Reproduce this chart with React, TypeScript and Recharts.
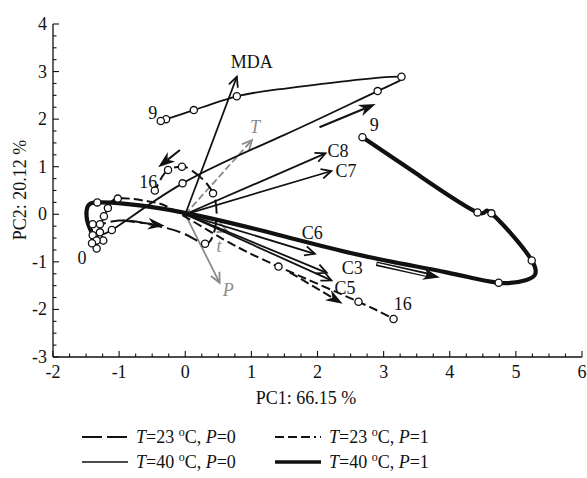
import React from "react";
import { ComposedChart, Line, XAxis, YAxis, ReferenceLine, ReferenceDot } from "recharts";

// axis ticks
const xMajor = [-2, -1, 0, 1, 2, 3, 4, 5, 6];
const yMajor = [-3, -2, -1, 0, 1, 2, 3, 4];
const xTicks = Array.from({ length: 33 }, (_, i) => -2 + i * 0.25);
const yTicks = Array.from({ length: 29 }, (_, i) => -3 + i * 0.25);

// score trajectories (m = measured sample, drawn with a circle)
const t23p0 = [
  { x: -1.41, y: -0.61, m: 1 },
  { x: -1.4, y: -0.21, m: 1 },
  { x: -1.29, y: -0.21, m: 1 },
  { x: -1.0, y: -0.13 },
  { x: -0.5, y: -0.22 },
  { x: 0.0, y: -0.42 },
  { x: 0.3, y: -0.62, m: 1 },
  { x: 0.45, y: -0.3 },
  { x: 0.42, y: 0.44, m: 1 },
  { x: 0.1, y: 0.92 },
  { x: -0.05, y: 1.0, m: 1 },
  { x: -0.26, y: 0.93, m: 1 },
  { x: -0.4, y: 0.66 },
  { x: -0.46, y: 0.5, m: 1 },
];
const t23p1 = [
  { x: -1.34, y: -0.55, m: 1 },
  { x: -1.23, y: -0.04, m: 1 },
  { x: -1.17, y: 0.13, m: 1 },
  { x: -1.02, y: 0.33, m: 1 },
  { x: -0.55, y: 0.27 },
  { x: -0.19, y: 0.1 },
  { x: 0.57, y: -0.52 },
  { x: 1.41, y: -1.1, m: 1 },
  { x: 2.62, y: -1.84, m: 1 },
  { x: 3.15, y: -2.2, m: 1 },
];
const t40p0 = [
  { x: -1.24, y: -0.55, m: 1 },
  { x: -1.29, y: -0.38, m: 1 },
  { x: -1.11, y: -0.33, m: 1 },
  { x: -0.04, y: 0.65, m: 1 },
  { x: 1.5, y: 1.67 },
  { x: 2.91, y: 2.59, m: 1 },
  { x: 3.27, y: 2.89, m: 1 },
  { x: 2.44, y: 2.8 },
  { x: 1.43, y: 2.63 },
  { x: 0.78, y: 2.48, m: 1 },
  { x: 0.13, y: 2.19, m: 1 },
  { x: -0.29, y: 2.0, m: 1 },
  { x: -0.37, y: 1.96, m: 1 },
];
const t40p1 = [
  { x: -1.34, y: -0.72, m: 1 },
  { x: -1.4, y: -0.44, m: 1 },
  { x: -1.48, y: -0.15 },
  { x: -1.48, y: 0.15 },
  { x: -1.33, y: 0.25, m: 1 },
  { x: -0.9, y: 0.22 },
  { x: -0.4, y: 0.13 },
  { x: 0.3, y: -0.06 },
  { x: 1.43, y: -0.44 },
  { x: 2.68, y: -0.87 },
  { x: 3.95, y: -1.22 },
  { x: 4.74, y: -1.44, m: 1 },
  { x: 5.16, y: -1.38 },
  { x: 5.24, y: -0.97, m: 1 },
  { x: 4.63, y: 0.02, m: 1 },
  { x: 4.42, y: 0.04, m: 1 },
  { x: 3.5, y: 0.85 },
  { x: 2.68, y: 1.62, m: 1 },
];

// variable loadings
const loadings = [
  { name: "MDA", x: 0.78, y: 2.89 },
  { name: "C8", x: 2.12, y: 1.28 },
  { name: "C7", x: 2.21, y: 0.91 },
  { name: "C6", x: 1.96, y: -0.83 },
  { name: "C3", x: 2.14, y: -1.23 },
  { name: "C5", x: 2.21, y: -1.39 },
];
const factors = [
  { name: "T", x: 1.01, y: 1.56 },
  { name: "t", x: 0.64, y: -0.36 },
  { name: "P", x: 0.52, y: -1.44 },
];

// direction arrows along the trajectories
const dirArrows = [
  { from: [2.03, 1.83], to: [2.88, 2.32], kind: "solid" },
  { from: [2.89, -1.04], to: [3.85, -1.33], kind: "double" },
  { from: [-0.94, -0.13], to: [-0.31, -0.24], kind: "longdash" },
  { from: [1.58, -1.22], to: [2.38, -1.88], kind: "dash" },
  { from: [-0.08, 1.35], to: [-0.41, 0.99], kind: "solid" },
];

// time labels at trajectory ends
const pointLabels = [
  { text: "0", x: -1.56, y: -0.92 },
  { text: "9", x: -0.49, y: 2.13 },
  { text: "16", x: -0.56, y: 0.67 },
  { text: "9", x: 2.86, y: 1.87 },
  { text: "16", x: 3.29, y: -1.88 },
];

const FONT = "'Liberation Serif', 'Times New Roman', serif";
const GRAY = "#8a8a8a";

// label offsets from arrow tips, in px
const labelPos: Record<string, [number, number, string]> = {
  MDA: [15, -9, "middle"],
  C8: [2, 4, "start"],
  C7: [4, 6, "start"],
  C6: [-13, -15, "start"],
  C3: [15, 1, "start"],
  C5: [3, 14, "start"],
  T: [-2, -7, "start"],
  t: [-11, 21, "start"],
  P: [3, 13, "start"],
};

const openHead = (x1: number, y1: number, x2: number, y2: number, len: number, color: string, w: number) => {
  const a = Math.atan2(y2 - y1, x2 - x1);
  const s = 0.45;
  const p1 = [x2 - len * Math.cos(a - s), y2 - len * Math.sin(a - s)];
  const p2 = [x2 - len * Math.cos(a + s), y2 - len * Math.sin(a + s)];
  return (
    <polyline
      points={`${p1[0]},${p1[1]} ${x2},${y2} ${p2[0]},${p2[1]}`}
      fill="none"
      stroke={color}
      strokeWidth={w}
    />
  );
};

const loadingShape = (name: string, color: string, dash?: string, italic?: boolean) => (p: any) => {
  const { x1, y1, x2, y2 } = p;
  const [dx, dy, anchor] = labelPos[name];
  return (
    <g>
      <line x1={x1} y1={y1} x2={x2} y2={y2} stroke={color} strokeWidth={1.8} strokeDasharray={dash} />
      {openHead(x1, y1, x2, y2, 11, color, 1.8)}
      <text
        x={x2 + dx}
        y={y2 + dy}
        textAnchor={anchor as any}
        fontFamily={FONT}
        fontSize={18}
        fontStyle={italic ? "italic" : "normal"}
        fill={color}
      >
        {name}
      </text>
    </g>
  );
};

const dirShape = (kind: string) => (p: any) => {
  const { x1, y1, x2, y2 } = p;
  const a = Math.atan2(y2 - y1, x2 - x1);
  const len = 17;
  const wid = 6;
  const bx = x2 - len * Math.cos(a);
  const by = y2 - len * Math.sin(a);
  const nx = -Math.sin(a);
  const ny = Math.cos(a);
  const notch = [x2 - len * 0.7 * Math.cos(a), y2 - len * 0.7 * Math.sin(a)];
  const head = `${x2},${y2} ${bx + nx * wid},${by + ny * wid} ${notch[0]},${notch[1]} ${bx - nx * wid},${by - ny * wid}`;
  const ex = notch[0];
  const ey = notch[1];
  let shaft;
  if (kind === "double") {
    shaft = (
      <g>
        <line x1={x1} y1={y1} x2={ex} y2={ey} stroke="#111" strokeWidth={4.5} />
        <line x1={x1 + 1} y1={y1} x2={ex - 2} y2={ey} stroke="#fff" strokeWidth={1.5} />
      </g>
    );
  } else {
    const dash = kind === "longdash" ? "12 5" : kind === "dash" ? "9 4" : undefined;
    shaft = <line x1={x1} y1={y1} x2={ex} y2={ey} stroke="#111" strokeWidth={2} strokeDasharray={dash} />;
  }
  return (
    <g>
      {shaft}
      <polygon points={head} fill="#111" />
    </g>
  );
};

const markerDot = (p: any) => {
  if (!p.payload || !p.payload.m) return <g key={`d-${p.index}`} />;
  return <circle key={`d-${p.index}`} cx={p.cx} cy={p.cy} r={3.6} fill="#fff" stroke="#111" strokeWidth={1.3} />;
};

const BottomTick = (p: any) => {
  const v = p.payload.value;
  const major = Number.isInteger(v);
  return (
    <g>
      <line x1={p.x} x2={p.x} y1={p.y} y2={p.y - (major ? 6 : 3.5)} stroke="#111" strokeWidth={1.1} />
      {major && (
        <text x={p.x} y={p.y + 15} textAnchor="middle" dominantBaseline="central" fontFamily={FONT} fontSize={18} fill="#111">
          {v}
        </text>
      )}
    </g>
  );
};
const TopTick = (p: any) => {
  const major = Number.isInteger(p.payload.value);
  return <line x1={p.x} x2={p.x} y1={p.y} y2={p.y + (major ? 6 : 3.5)} stroke="#111" strokeWidth={1.1} />;
};
const LeftTick = (p: any) => {
  const v = p.payload.value;
  const major = Number.isInteger(v);
  return (
    <g>
      <line x1={p.x} x2={p.x + (major ? 6 : 3.5)} y1={p.y} y2={p.y} stroke="#111" strokeWidth={1.1} />
      {major && (
        <text x={p.x - 6} y={p.y} textAnchor="end" dominantBaseline="central" fontFamily={FONT} fontSize={18} fill="#111">
          {v}
        </text>
      )}
    </g>
  );
};
const RightTick = (p: any) => {
  const major = Number.isInteger(p.payload.value);
  return <line x1={p.x} x2={p.x - (major ? 6 : 3.5)} y1={p.y} y2={p.y} stroke="#111" strokeWidth={1.1} />;
};

const legendItems = [
  { temp: "23", p: "0", col: 0, row: 0, dash: "20 5", w: 1.8 },
  { temp: "23", p: "1", col: 1, row: 0, dash: "9 4 9 4 9 4 2 4", w: 1.8 },
  { temp: "40", p: "0", col: 0, row: 1, dash: undefined, w: 1.3 },
  { temp: "40", p: "1", col: 1, row: 1, dash: undefined, w: 3.5 },
];

export default function App() {
  const axisLine = { stroke: "#111", strokeWidth: 1.3 };
  return (
    <div style={{ position: "relative", width: 587, height: 478, background: "#fff" }}>
      <style>{"body{margin:0}"}</style>
      <ComposedChart width={587} height={478} margin={{ top: 24, right: 5, left: 0, bottom: 0 }}>
        <XAxis
          xAxisId={0}
          dataKey="x"
          type="number"
          domain={[-2, 6]}
          ticks={xTicks}
          interval={0}
          allowDataOverflow
          height={121}
          tickSize={0}
          tickMargin={0}
          tickLine={false}
          axisLine={axisLine}
          tick={<BottomTick />}
        />
        <XAxis
          xAxisId="top"
          orientation="top"
          dataKey="x"
          type="number"
          domain={[-2, 6]}
          ticks={xTicks}
          interval={0}
          allowDataOverflow
          height={0}
          tickSize={0}
          tickMargin={0}
          tickLine={false}
          axisLine={axisLine}
          tick={<TopTick />}
        />
        <YAxis
          yAxisId={0}
          type="number"
          domain={[-3, 4]}
          ticks={yTicks}
          interval={0}
          allowDataOverflow
          width={53}
          tickSize={0}
          tickMargin={0}
          tickLine={false}
          axisLine={axisLine}
          tick={<LeftTick />}
        />
        <YAxis
          yAxisId="right"
          orientation="right"
          type="number"
          domain={[-3, 4]}
          ticks={yTicks}
          interval={0}
          allowDataOverflow
          width={0}
          tickSize={0}
          tickMargin={0}
          tickLine={false}
          axisLine={axisLine}
          tick={<RightTick />}
        />

        {factors.map((f) => (
          <ReferenceLine
            key={f.name}
            segment={[{ x: 0, y: 0 }, { x: f.x, y: f.y }]}
            ifOverflow="visible"
            shape={loadingShape(f.name, GRAY, f.name === "P" ? undefined : "7 3", true)}
          />
        ))}
        {loadings.map((l) => (
          <ReferenceLine
            key={l.name}
            segment={[{ x: 0, y: 0 }, { x: l.x, y: l.y }]}
            ifOverflow="visible"
            shape={loadingShape(l.name, "#111")}
          />
        ))}
        {dirArrows.map((d, i) => (
          <ReferenceLine
            key={`dir-${i}`}
            segment={[{ x: d.from[0], y: d.from[1] }, { x: d.to[0], y: d.to[1] }]}
            ifOverflow="visible"
            shape={dirShape(d.kind)}
          />
        ))}

        <Line data={t40p1} dataKey="y" type="natural" stroke="#111" strokeWidth={4.2} dot={markerDot} isAnimationActive={false} />
        <Line data={t40p0} dataKey="y" type="natural" stroke="#111" strokeWidth={1.8} dot={markerDot} isAnimationActive={false} />
        <Line data={t23p1} dataKey="y" type="natural" stroke="#111" strokeWidth={2} strokeDasharray="9 4" dot={markerDot} isAnimationActive={false} />
        <Line data={t23p0} dataKey="y" type="natural" stroke="#111" strokeWidth={2} strokeDasharray="14 5" dot={markerDot} isAnimationActive={false} />

        <ReferenceDot x={0} y={0} ifOverflow="visible" shape={(p: any) => <circle cx={p.cx} cy={p.cy} r={3} fill="#111" />} />
        {pointLabels.map((l, i) => (
          <ReferenceDot
            key={`pl-${i}`}
            x={l.x}
            y={l.y}
            ifOverflow="visible"
            shape={(p: any) => (
              <text x={p.cx} y={p.cy} textAnchor="middle" dominantBaseline="central" fontFamily={FONT} fontSize={18} fill="#111">
                {l.text}
              </text>
            )}
          />
        ))}
      </ComposedChart>

      <svg width={587} height={478} style={{ position: "absolute", left: 0, top: 0, pointerEvents: "none" }}>
        <text x={306} y={398} textAnchor="middle" dominantBaseline="central" fontFamily={FONT} fontSize={18} fill="#111">
          PC1: 66.15 %
        </text>
        <text
          x={20}
          y={190}
          transform="rotate(-90 20 190)"
          textAnchor="middle"
          dominantBaseline="central"
          fontFamily={FONT}
          fontSize={18}
          fill="#111"
        >
          PC2: 20.12 %
        </text>
        {legendItems.map((it, i) => {
          const lx = it.col === 0 ? 82 : 275;
          const ly = it.row === 0 ? 437 : 462;
          return (
            <g key={i}>
              <line x1={lx} x2={lx + 46} y1={ly} y2={ly} stroke="#111" strokeWidth={it.w} strokeDasharray={it.dash} />
              <text x={lx + 54} y={ly + 6} fontFamily={FONT} fontSize={18} fill="#111">
                <tspan fontStyle="italic">T</tspan>
                <tspan>={it.temp} </tspan>
                <tspan dy={-7} fontSize={12}>o</tspan>
                <tspan dy={7}>C, </tspan>
                <tspan fontStyle="italic">P</tspan>
                <tspan>={it.p}</tspan>
              </text>
            </g>
          );
        })}
      </svg>
    </div>
  );
}
